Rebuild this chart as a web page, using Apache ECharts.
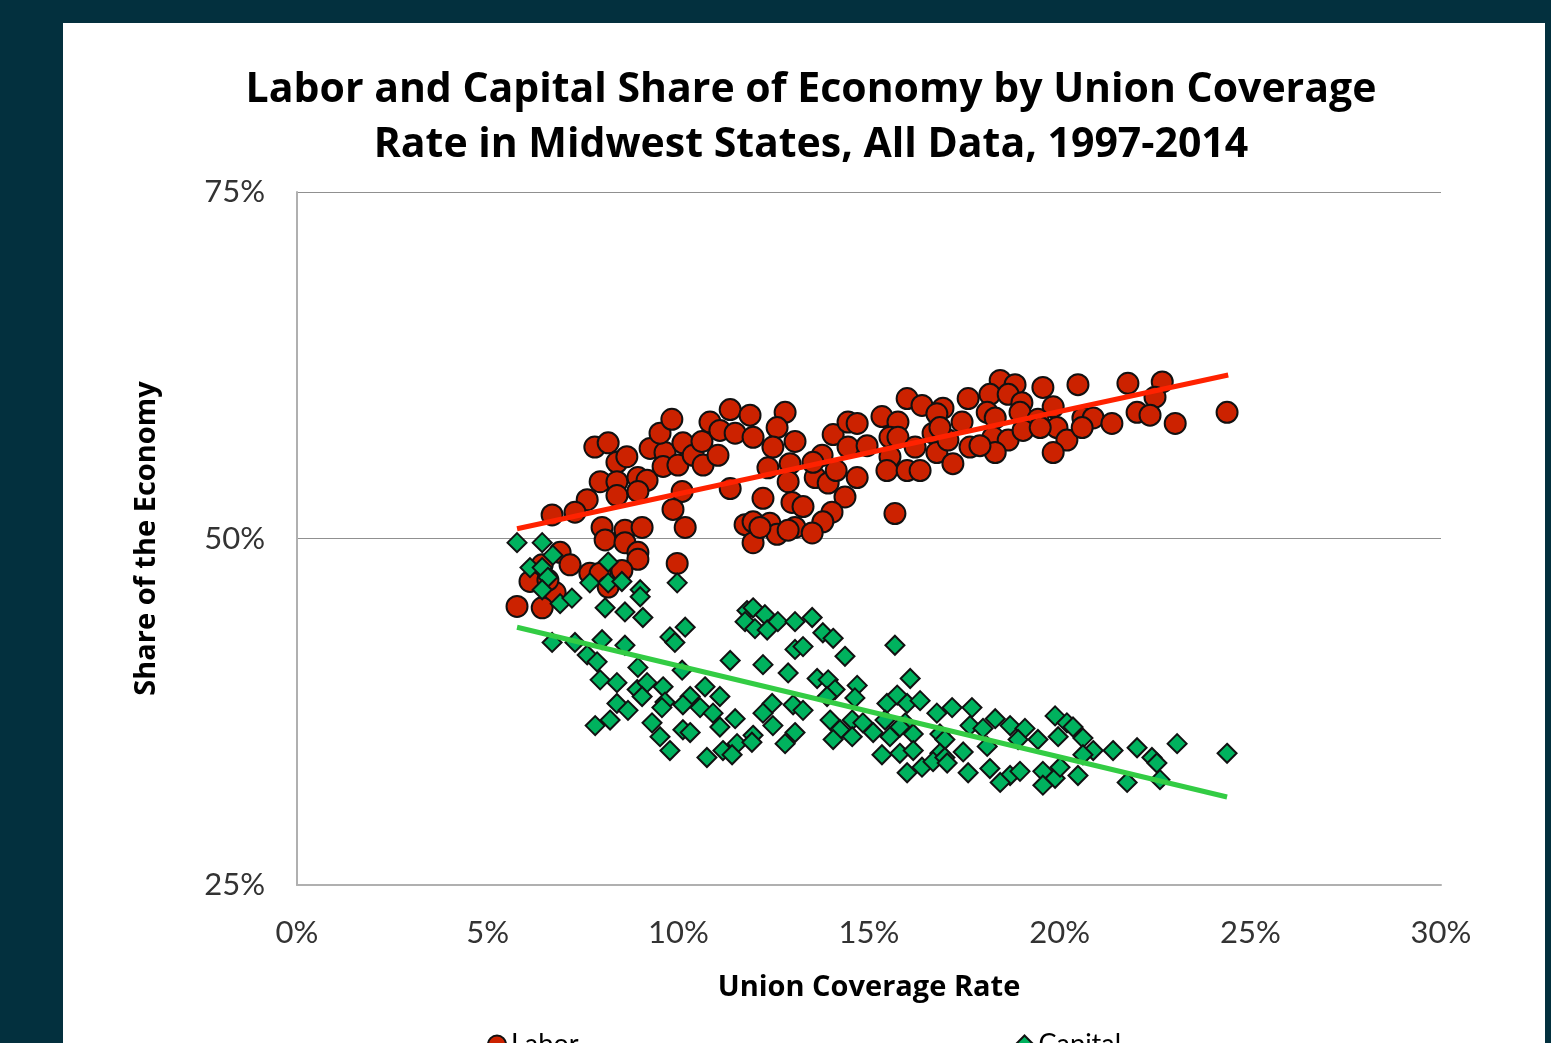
<!DOCTYPE html>
<html>
<head>
<meta charset="utf-8">
<script src="https://cdn.jsdelivr.net/npm/echarts@6/dist/echarts.min.js"></script>
<style>
  html, body { margin: 0; padding: 0; background: #03303e; }
  #chart { width: 1551px; height: 1043px; }
</style>
</head>
<body>
<div id="chart"></div>
<script>
// union coverage rate (%), share of the economy (%)
const labor = [
  [7.81,56.6],[8.16,56.9],[8.39,55.5],[8.65,55.9],[7.95,54.1],[8.39,54.1],[8.39,53.1],[7.61,52.8],[7.29,51.9],[6.69,51.7],
  [8.94,54.4],[9.18,54.2],[8.94,53.4],[9.26,56.5],[9.65,56.2],[9.52,57.6],[9.83,58.6],[9.60,55.2],[9.99,55.3],[10.12,56.9],
  [10.39,56.0],[10.65,55.3],[10.62,57.0],[10.83,58.4],[11.09,57.8],[11.36,59.3],[11.49,57.6],[11.04,56.0],[11.36,53.6],[10.10,53.4],
  [9.86,52.1],[10.18,50.8],[8.00,50.8],[8.08,49.9],[8.60,50.6],[8.60,49.7],[9.05,50.8],[8.94,49.0],[8.94,48.5],[9.97,48.2],
  [6.90,49.0],[7.16,48.1],[6.43,48.1],[6.11,46.9],[7.68,47.5],[7.95,47.5],[8.52,47.7],[8.16,46.5],[6.77,46.1],[5.77,45.1],
  [6.43,45.0],[6.58,47.0],
  [11.88,58.9],[12.80,59.1],[11.96,57.3],[12.59,58.0],[13.06,57.0],[12.48,56.6],[14.06,57.5],[14.45,58.4],[14.69,58.3],[15.34,58.8],
  [15.76,58.4],[16.00,60.1],[16.39,59.6],[16.94,59.4],[14.45,56.6],[14.95,56.7],[13.77,56.0],[15.55,57.3],[15.76,57.3],[16.68,57.6],
  [15.55,55.9],[16.78,56.2],[17.20,55.4],[12.35,55.1],[12.93,55.4],[12.88,54.1],[13.59,54.4],[13.93,54.0],[14.69,54.4],[15.47,54.9],
  [16.00,54.9],[16.34,54.9],[12.22,52.9],[12.98,52.6],[13.27,52.3],[14.37,53.0],[15.68,51.8],[14.03,51.9],[13.79,51.2],[11.75,51.0],
  [11.96,51.2],[12.40,51.1],[13.06,50.8],[12.59,50.3],[11.96,49.7],[13.51,50.4],[12.14,50.8],[12.88,50.6],[13.53,55.5],[14.14,54.9],
  [18.44,61.4],[18.83,61.1],[17.60,60.1],[18.17,60.4],[18.65,60.4],[19.01,59.8],[19.56,60.9],[20.48,61.1],[21.79,61.2],[22.69,61.3],
  [22.50,60.2],[18.10,59.1],[19.83,59.5],[17.44,58.4],[18.31,58.7],[18.96,59.1],[19.43,58.6],[19.93,58.0],[20.61,58.7],[20.88,58.7],
  [21.37,58.3],[22.03,59.1],[22.37,58.9],[23.03,58.3],[24.39,59.1],[18.25,57.3],[18.65,57.1],[19.04,57.8],[19.49,58.0],[20.19,57.1],
  [20.59,58.0],[17.07,57.1],[17.65,56.6],[18.31,56.2],[19.83,56.2],[16.78,59.0],[16.86,58.0],[17.91,56.7],[16.21,56.6]
];

const capital = [
  [5.77,49.7],[6.43,49.7],[6.71,48.8],[6.11,47.9],[6.43,47.9],[6.58,47.2],[6.43,46.3],[6.90,45.3],[7.21,45.7],[8.16,48.3],
  [7.68,46.8],[8.16,46.8],[8.52,46.9],[9.00,46.3],[9.00,45.8],[9.97,46.8],[8.08,45.0],[8.60,44.7],[9.07,44.3],[10.18,43.6],
  [9.78,42.9],[9.91,42.5],[6.69,42.5],[7.29,42.5],[8.00,42.7],[8.60,42.3],[7.61,41.6],[7.87,41.1],[11.36,41.2],[11.80,44.8],
  [8.94,40.7],[10.10,40.5],[7.95,39.8],[8.39,39.6],[8.92,39.1],[9.18,39.6],[9.60,39.3],[10.31,38.6],[10.70,39.3],[11.09,38.6],
  [8.39,38.1],[8.68,37.6],[9.05,38.6],[9.65,38.2],[10.12,38.0],[10.57,37.8],[9.57,37.8],[10.91,37.4],[11.49,37.0],[7.82,36.5],
  [8.21,36.9],[9.31,36.7],[9.52,35.7],[10.12,36.2],[10.31,36.0],[11.09,36.4],[9.78,34.7],[10.75,34.2],[11.17,34.7],[11.54,35.2],
  [11.41,34.4],
  [11.96,45.0],[12.27,44.5],[11.75,44.0],[12.01,43.5],[12.33,43.4],[12.61,44.0],[13.06,44.0],[13.51,44.3],[13.79,43.2],[14.06,42.8],
  [13.06,42.0],[13.27,42.2],[15.68,42.3],[14.37,41.5],[12.22,40.9],[12.88,40.3],[13.64,39.9],[13.93,39.8],[14.11,39.1],[14.69,39.4],
  [16.08,39.9],[12.46,38.1],[13.01,38.0],[13.27,37.6],[13.90,38.6],[14.63,38.5],[15.47,38.1],[15.74,38.7],[16.00,38.1],[16.34,38.3],
  [16.78,37.4],[17.18,37.8],[12.22,37.4],[13.98,36.9],[14.56,36.9],[14.84,36.7],[15.42,36.9],[15.95,36.7],[12.48,36.5],[13.06,36.0],
  [14.24,36.2],[15.11,36.0],[15.55,35.7],[16.16,35.9],[16.86,35.9],[11.96,35.8],[14.06,35.5],[14.56,35.7],[15.81,36.4],[16.99,35.5],
  [11.93,35.3],[12.80,35.2],[15.34,34.4],[15.81,34.5],[16.16,34.7],[16.86,34.5],[16.00,33.1],[16.39,33.5],[16.68,33.9],[16.99,34.2],
  [17.70,37.8],[18.31,37.0],[18.70,36.5],[19.09,36.3],[19.88,37.2],[20.19,36.7],[20.35,36.4],[17.65,36.5],[17.99,36.3],[19.43,35.5],
  [19.96,35.7],[20.61,35.6],[20.88,34.7],[21.40,34.7],[22.03,34.9],[22.42,34.2],[22.55,33.8],[23.08,35.2],[24.39,34.5],[17.47,34.6],
  [18.10,35.0],[18.91,35.5],[17.05,33.8],[17.60,33.1],[18.17,33.4],[18.70,32.9],[18.96,33.2],[18.44,32.4],[19.56,33.2],[19.88,32.7],
  [19.56,32.2],[20.01,33.5],[20.48,32.9],[21.77,32.4],[22.63,32.6],[20.61,34.4]
];

// linear trend end points
const laborTrend = [[5.77,50.7],[24.42,61.8]];
const capitalTrend = [[5.77,43.6],[24.39,31.35]];

const xTicks = [0, 5, 10, 15, 20, 25, 30];
const yTicks = [25, 50, 75];

const font = 'Lato, "Open Sans", sans-serif';
const boldFont = '"Open Sans", Lato, sans-serif';
const chart = echarts.init(document.getElementById('chart'));

chart.setOption({
  backgroundColor: '#03303e',
  animation: false,
  textStyle: {fontFamily: font},
  graphic: [
    {
      type: 'rect',
      z: -10,
      shape: {x: 63, y: 23, width: 1482, height: 1040},
      style: {fill: '#ffffff'}
    }
  ],
  title: {
    text: 'Labor and Capital Share of Economy by Union Coverage\nRate in Midwest States, All Data, 1997-2014',
    left: 806,
    top: 58,
    textAlign: 'center',
    textStyle: {
      fontFamily: boldFont,
      fontSize: 41,
      fontWeight: 'bold',
      color: '#000',
      lineHeight: 55
    }
  },
  legend: {
    data: ['Labor', 'Capital'],
    left: 482,
    top: 1026,
    itemGap: 436,
    itemWidth: 18,
    itemHeight: 18,
    textStyle: {fontSize: 27, color: '#000', fontFamily: font}
  },
  grid: {left: 297, right: 110, top: 192, bottom: 158},
  xAxis: {
    type: 'value',
    min: xTicks[0],
    max: xTicks[xTicks.length - 1],
    interval: 5,
    name: 'Union Coverage Rate',
    nameLocation: 'middle',
    nameGap: 88,
    nameTextStyle: {fontSize: 29, fontWeight: 'bold', color: '#000', fontFamily: boldFont},
    axisLine: {lineStyle: {color: '#b0b0b0', width: 2}},
    axisTick: {show: false},
    axisLabel: {formatter: '{value}%', fontSize: 31, color: '#333', margin: 32},
    splitLine: {show: false}
  },
  yAxis: {
    type: 'value',
    min: yTicks[0],
    max: yTicks[yTicks.length - 1],
    interval: 25,
    name: 'Share of the Economy',
    nameLocation: 'middle',
    nameGap: 136,
    nameTextStyle: {fontSize: 29, fontWeight: 'bold', color: '#000', fontFamily: boldFont},
    axisLine: {show: true, lineStyle: {color: '#b0b0b0', width: 2}},
    axisTick: {show: false},
    axisLabel: {formatter: '{value}%', fontSize: 31, color: '#333', margin: 32},
    splitLine: {lineStyle: {color: '#909090', width: 1}}
  },
  series: [
    {
      name: 'Labor',
      type: 'scatter',
      symbol: 'circle',
      symbolSize: 21,
      data: labor,
      itemStyle: {color: '#cc2200', borderColor: '#111', borderWidth: 2, opacity: 1}
    },
    {
      name: 'Capital',
      type: 'scatter',
      symbol: 'diamond',
      symbolSize: 19,
      data: capital,
      itemStyle: {color: '#00b25e', borderColor: '#111', borderWidth: 2, opacity: 1}
    },
    {
      name: 'Labor trend',
      type: 'line',
      data: laborTrend,
      showSymbol: false,
      lineStyle: {color: '#ff2200', width: 5},
      z: 5
    },
    {
      name: 'Capital trend',
      type: 'line',
      data: capitalTrend,
      showSymbol: false,
      lineStyle: {color: '#33cc44', width: 5},
      z: 5
    }
  ]
});
</script>
</body>
</html>
